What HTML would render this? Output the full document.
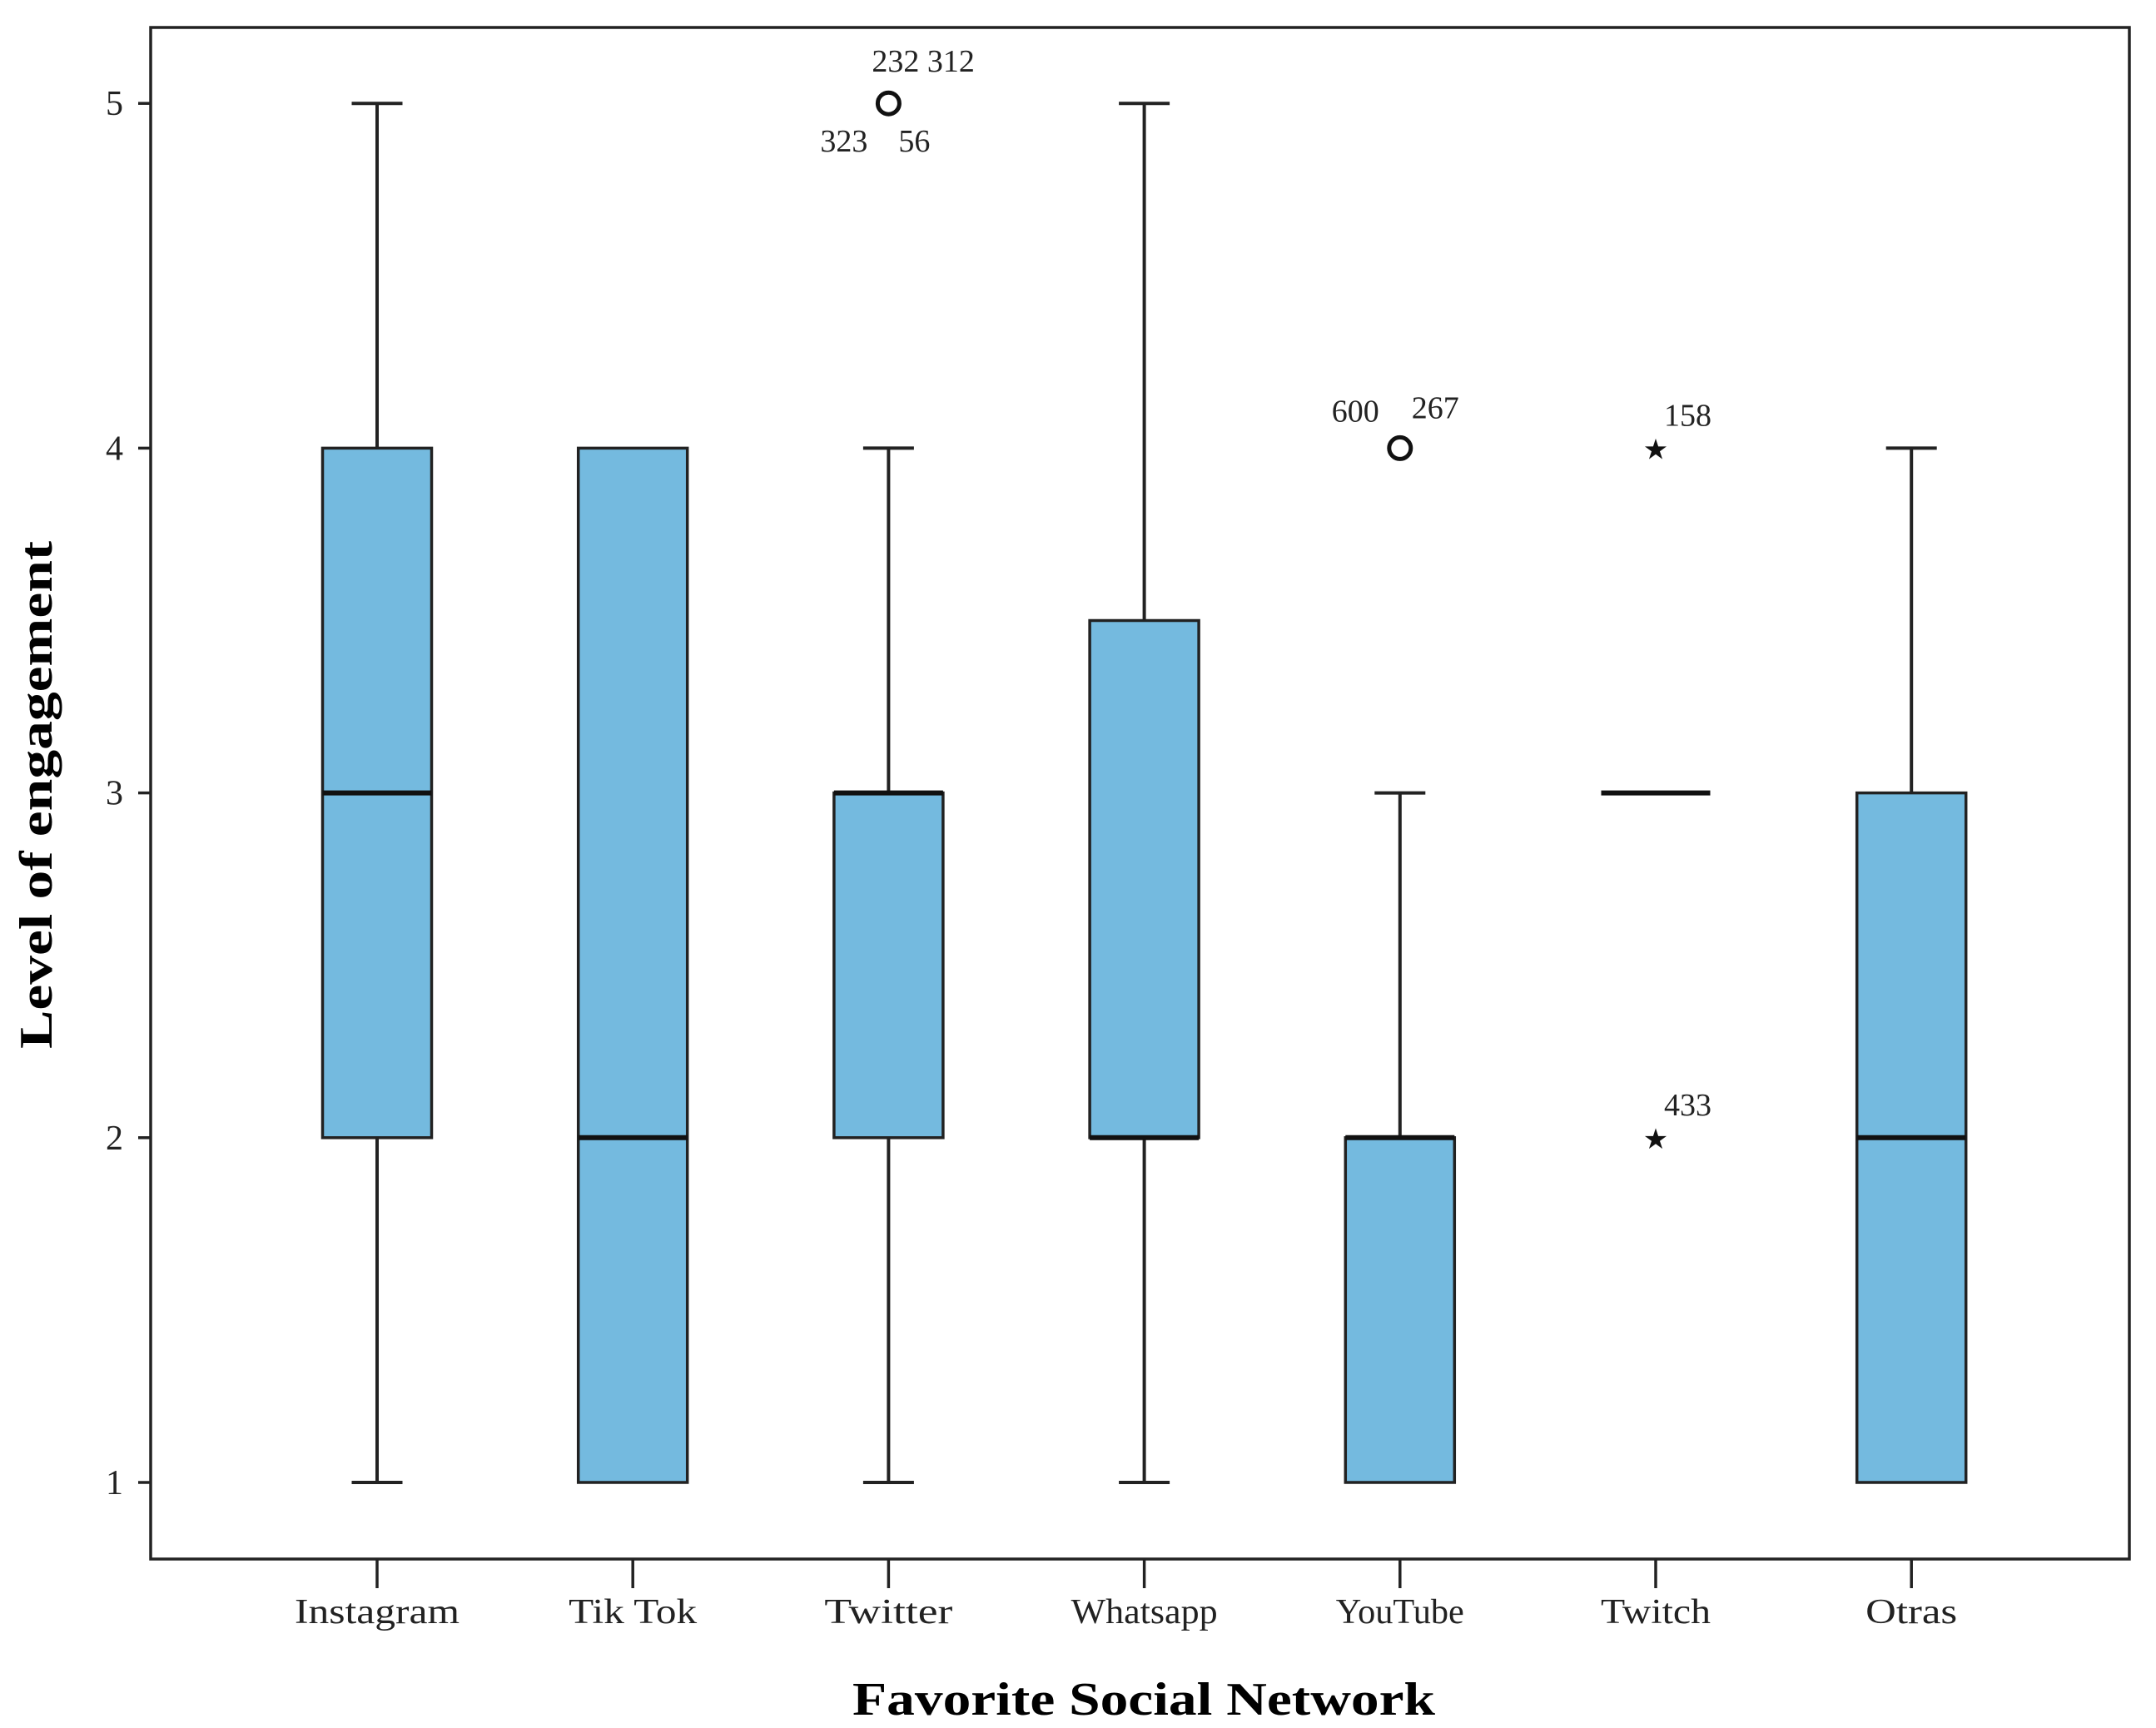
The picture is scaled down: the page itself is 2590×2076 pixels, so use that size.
<!DOCTYPE html>
<html><head><meta charset="utf-8"><style>
html,body{margin:0;padding:0;background:#fff;}
svg{display:block;font-family:"Liberation Serif",serif;}
</style></head><body>
<svg id="chart" width="2590" height="2076" viewBox="0 0 2590 2076" xmlns="http://www.w3.org/2000/svg">
<rect x="181" y="33" width="2377" height="1840" fill="#fff" stroke="#222" stroke-width="3.5"/>
<g id="g"></g>
<text transform="translate(62,955) rotate(-90)" text-anchor="middle" font-weight="bold" font-size="56" textLength="610" lengthAdjust="spacingAndGlyphs">Level of engagement</text>
<text x="1374" y="2060" text-anchor="middle" font-weight="bold" font-size="56" textLength="700" lengthAdjust="spacingAndGlyphs">Favorite Social Network</text>
</svg>
<script>
const categories=["Instagram","Tik Tok","Twitter","Whatsapp","YouTube","Twitch","Otras"];
const mins=[1,1,1,1,1,3,1];
const q1s=[2,1,2,2,1,3,1];
const medians=[3,2,3,2,2,3,2];
const q3s=[4,4,3,3.5,2,3,3];
const maxs=[5,4,4,5,3,3,4];
const circleOutliers=[[2,5],[4,4]];
const starOutliers=[[5,4],[5,2]];
const outlierLabels=[[2,5,"232 312",-20,-38],[2,5,"323",-82,58],[2,5,"56",12,58],[4,4,"600",-82,-32],[4,4,"267",14,-36],[5,4,"158",10,-27],[5,2,"433",10,-27]];
const yTicks=[1,2,3,4,5];
const NS="http://www.w3.org/2000/svg";
const g=document.getElementById("g");
const x=i=>453+i*307.2;
const y=v=>1781-(v-1)*414.2;
const bw=131,cw=61;
function mk(t,a){const e=document.createElementNS(NS,t);for(const k in a)e.setAttribute(k,a[k]);g.appendChild(e);return e;}
yTicks.forEach(v=>{
 const t=mk("line",{x1:166,x2:181,y1:y(v),y2:y(v),stroke:"#222","stroke-width":3.5});
 
 
 const l=mk("text",{x:148,y:y(v)+14,"text-anchor":"end","font-size":42,fill:"#222"});l.textContent=v;
 
 
});
categories.forEach((c,i)=>{
 const cx=x(i);
 const t=mk("line",{x1:cx,x2:cx,y1:1873,y2:1908,stroke:"#222","stroke-width":3.5});
 
 
 const l=mk("text",{x:cx,y:1950,"text-anchor":"middle","font-size":42,fill:"#222",textLength:c.length*22,lengthAdjust:"spacingAndGlyphs"});l.textContent=c;
 
 
 if(maxs[i]>q3s[i]){
  const w=mk("path",{d:`M${cx},${y(q3s[i])}V${y(maxs[i])}M${cx-cw/2},${y(maxs[i])}h${cw}`,stroke:"#222","stroke-width":4,fill:"none"});
  
  
 }
 if(mins[i]<q1s[i]){
  const w=mk("path",{d:`M${cx},${y(q1s[i])}V${y(mins[i])}M${cx-cw/2},${y(mins[i])}h${cw}`,stroke:"#222","stroke-width":4,fill:"none"});
  
  
 }
 if(q3s[i]>q1s[i]){
  const b=mk("rect",{x:cx-bw/2,y:y(q3s[i]),width:bw,height:y(q1s[i])-y(q3s[i]),fill:"#74badf",stroke:"#222","stroke-width":3.5});
  
  
 }
 const m=mk("line",{x1:cx-bw/2,x2:cx+bw/2,y1:y(medians[i]),y2:y(medians[i]),stroke:"#111","stroke-width":6});
 
 
});
circleOutliers.forEach(o=>{
 const c=mk("circle",{cx:x(o[0]),cy:y(o[1]),r:13,fill:"none",stroke:"#111","stroke-width":5});
 
 
});
starOutliers.forEach(o=>{
 const s=mk("text",{x:x(o[0]),y:y(o[1])+13,"text-anchor":"middle","font-size":34,fill:"#111"});s.textContent="★";
 
 
});
outlierLabels.forEach(o=>{
 const t=mk("text",{x:x(o[0])+o[3],y:y(o[1])+o[4],"font-size":38,fill:"#222"});t.textContent=o[2];
 
 
});
</script>
</body></html>
